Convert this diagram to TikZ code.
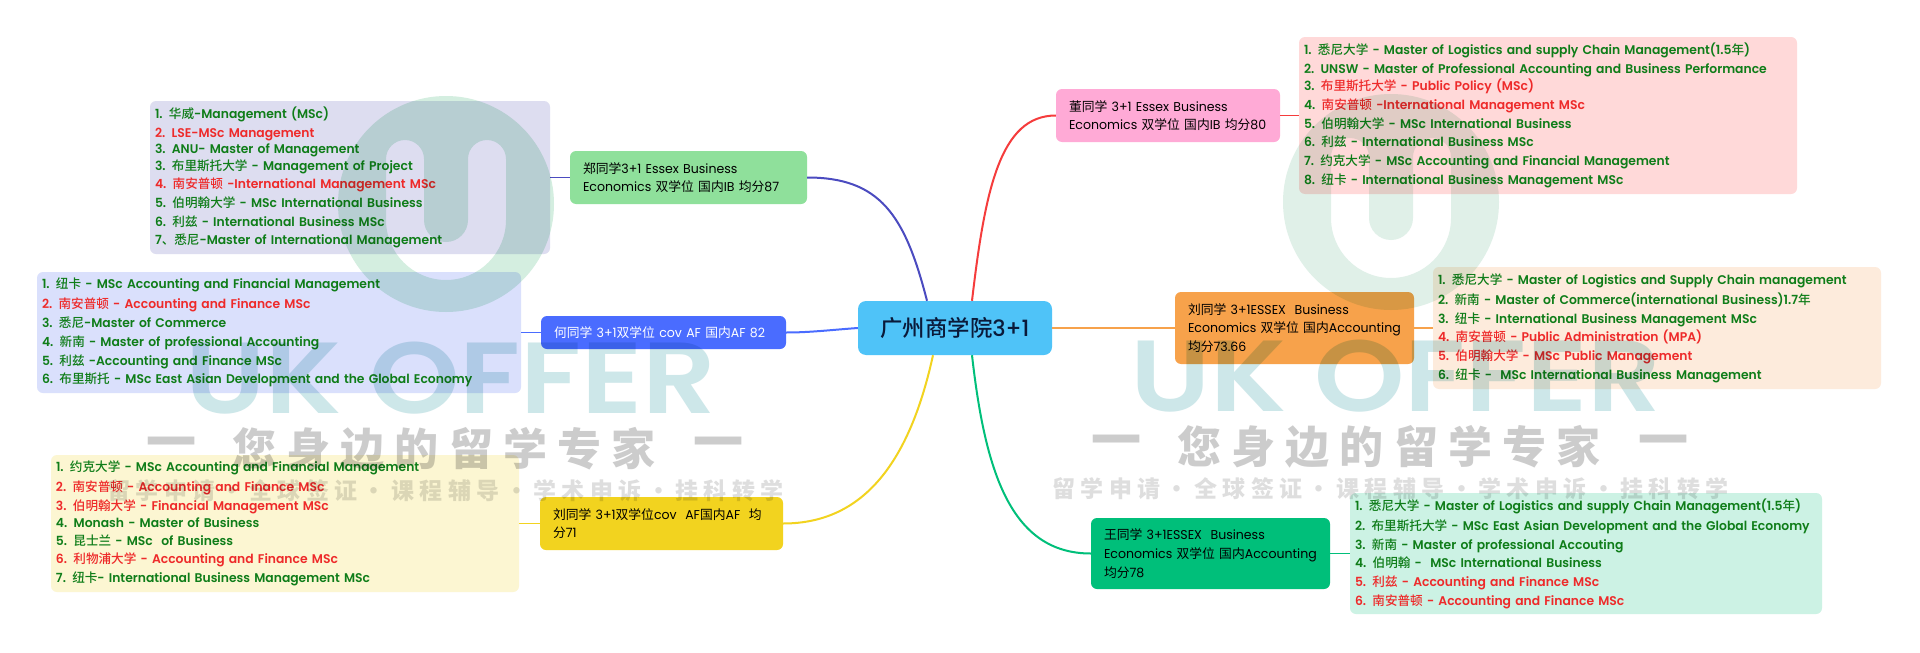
\documentclass[tikz,border=0pt]{standalone}
\usepackage{graphicx}
\usepackage{fontspec}
\setmainfont{Poppins}
\newfontfamily\latb{Poppins SemiBold}[FakeStretch=0.98]
\newfontfamily\latm{Poppins Medium}
\newfontfamily\latr{Poppins}[FakeStretch=0.98]
\newfontfamily\latw{Poppins SemiBold}
\newfontfamily\cjkf{Noto Sans CJK SC}
\newfontfamily\cjkm{Noto Sans CJK SC Medium}
\newfontfamily\cjkl{Noto Sans CJK SC}[LetterSpace=23]
\newfontfamily\cjks{Noto Sans CJK SC}[LetterSpace=23.5]
\newcommand\zh[1]{{\cjkf #1}}
\newcommand\zm[1]{{\cjkm #1}}
\definecolor{tg}{RGB}{15,125,25}
\definecolor{tr}{RGB}{238,42,42}
\newcommand\gl[1]{\mbox{\color{tg}#1}}
\newcommand\rl[1]{\mbox{\color{tr}#1}}
\definecolor{cRoot}{RGB}{79,195,248}
\definecolor{cZheng}{RGB}{143,224,155}
\definecolor{cHe}{RGB}{74,108,255}
\definecolor{cLiuA}{RGB}{242,211,31}
\definecolor{cDong}{RGB}{255,170,214}
\definecolor{cLiuB}{RGB}{247,162,75}
\definecolor{cWang}{RGB}{0,191,122}
\definecolor{lZheng}{RGB}{221,221,240}
\definecolor{lHe}{RGB}{218,224,252}
\definecolor{lLiuA}{RGB}{252,246,210}
\definecolor{lDong}{RGB}{255,217,217}
\definecolor{lLiuB}{RGB}{253,235,220}
\definecolor{lWang}{RGB}{204,242,228}
\definecolor{cLineZ}{RGB}{75,75,192}
\definecolor{cLineD}{RGB}{245,60,60}
\definecolor{wmGrayA}{RGB}{204,204,204}
\definecolor{wmGrayB}{RGB}{222,222,222}
\definecolor{wmTeal}{RGB}{205,231,233}
\definecolor{wmLogoA}{RGB}{212,238,224}
\definecolor{wmLogoB}{RGB}{224,240,232}
\tikzset{
 listbox/.style={rounded corners=6pt,inner xsep=5pt,inner ysep=0pt,align=left,anchor=center,
   font=\latb\fontsize{12.6}{18.67}\selectfont,execute at begin node={\vspace*{1.6pt}}},
 topic/.style={rounded corners=6pt,inner xsep=13pt,inner ysep=0pt,align=left,anchor=center,
   font=\latr\fontsize{12.8}{18.67}\selectfont,text=black},
 link/.style={line width=2pt},
 stub/.style={line width=1.5pt},
}
\newcommand\wmark[4]{% dx dy logocolour prefix
\begin{scope}[shift={(#1,#2)}]
 \fill[#3,even odd rule] (1391,202) circle[radius=108pt]
  (1331,218) -- (1331,157) .. controls (1331,146.5) and (1339.5,138) .. (1350,138)
  .. controls (1360.5,138) and (1369,146.5) .. (1369,157) -- (1369,218)
  .. controls (1369,230.15) and (1378.85,240) .. (1391,240)
  .. controls (1403.15,240) and (1413,230.15) .. (1413,218) -- (1413,157)
  .. controls (1413,146.5) and (1421.5,138) .. (1432,138)
  .. controls (1442.5,138) and (1451,146.5) .. (1451,157) -- (1451,218)
  .. controls (1451,251.1) and (1424.1,278) .. (1391,278)
  .. controls (1357.9,278) and (1331,251.1) .. (1331,218) -- cycle;
 \node[anchor=west,inner sep=0pt,text=wmTeal,font=\latw\fontsize{101}{101}\selectfont] (#4uk) at (1130,376) {\scalebox{1.14}[1]{UK OFFER}};
 \node[inner sep=0pt,text=wmGrayA,font=\cjkl\bfseries\fontsize{44}{44}\selectfont] (#4sl) at (1389,447) {您身边的留学专家};
 \node[inner sep=0pt,text=wmGrayA,font=\cjkf\bfseries\fontsize{50}{50}\selectfont] (#4da) at (1116.5,447) {一};
 \node[inner sep=0pt,text=wmGrayA,font=\cjkf\bfseries\fontsize{50}{50}\selectfont] (#4db) at (1663,447) {一};
 \node[inner sep=0pt,text=wmGrayB,font=\cjks\bfseries\fontsize{23}{23}\selectfont] (#4sm) at (1390.5,488.5) {留学申请・全球签证・课程辅导・学术申诉・挂科转学};
\end{scope}}
\begin{document}
\begin{tikzpicture}[x=1pt,y=-1pt]
\useasboundingbox (0,0) rectangle (1920,653);
\fill[white] (0,0) rectangle (1920,653);
% root
\node[rounded corners=8pt,fill=cRoot,minimum width=194pt,minimum height=54pt,inner sep=0pt,
  text={rgb,255:red,10;green,26;blue,58},font=\latm\fontsize{22.4}{22.4}\selectfont] (root) at (955,328) {\zm{广州商学院}3+1};
% topics
\node[topic,fill=cZheng,text width=211pt,minimum height=53pt] (zheng) at (688.5,177.5)
 {\zh{郑同学}3+1 Essex Business\\\mbox{Economics \zh{双学位 国内}IB \zh{均分}87}};
\node[topic,fill=cHe,text=white,text width=219pt,minimum height=33pt] (he) at (663.5,332.5)
 {\mbox{\zh{何同学} 3+1\zh{双学位} cov AF \zh{国内}AF 82}};
\node[topic,fill=cLiuA,text width=217pt,minimum height=53pt] (liua) at (661.5,523.5)
 {\mbox{\zh{刘同学} 3+1\zh{双学位}cov\ \ AF\zh{国内}AF\ \ \zh{均}}\\\zh{分}71};
\node[topic,fill=cDong,text width=198pt,minimum height=53pt] (dong) at (1168,115.5)
 {\zh{董同学} 3+1 Essex Business\\\mbox{Economics \zh{双学位 国内}IB \zh{均分}80}};
\node[topic,fill=cLiuB,text width=213pt,minimum height=72pt] (liub) at (1294.5,328)
 {\zh{刘同学} 3+1ESSEX\ \ Business\\\mbox{Economics \zh{双学位 国内}Accounting}\\\zh{均分}73.66};
\node[topic,fill=cWang,text width=213pt,minimum height=71pt] (wang) at (1210.5,553.5)
 {\zh{王同学} 3+1ESSEX\ \ Business\\\mbox{Economics \zh{双学位 国内}Accounting}\\\zh{均分}78};
% lists
\node[listbox,fill=lZheng,text width=390pt,minimum height=153pt] (lzheng) at (350,177.5) {%
 \gl{1. \zm{华威}-Management (MSc)}\\[-1.4pt]
 \rl{2. LSE-MSc Management}\\[-2.7pt]
 \gl{3. ANU- Master of Management}\\[-1.4pt]
 \gl{3. \zm{布里斯托大学} - Management of Project}\\
 \rl{4. \zm{南安普顿} -International Management MSc}\\
 \gl{5. \zm{伯明翰大学} - MSc International Business}\\
 \gl{6. \zm{利兹} - International Business MSc}\\
 \gl{7\zm{、悉尼}-Master of International Management}};
\node[listbox,fill=lHe,text width=474pt,minimum height=121pt] (lhe) at (279,332.5) {%
 \gl{1. \zm{纽卡} - MSc Accounting and Financial Management}\\
 \rl{2. \zm{南安普顿} - Accounting and Finance MSc}\\
 \gl{3. \zm{悉尼}-Master of Commerce}\\
 \gl{4. \zm{新南} - Master of professional Accounting}\\
 \gl{5. \zm{利兹} -Accounting and Finance MSc}\\
 \gl{6. \zm{布里斯托} - MSc East Asian Development and the Global Economy}};
\node[listbox,fill=lLiuA,text width=458pt,minimum height=137pt] (lliua) at (285,523.5) {%
 \gl{1. \zm{约克大学} - MSc Accounting and Financial Management}\\
 \rl{2. \zm{南安普顿} - Accounting and Finance MSc}\\
 \rl{3. \zm{伯明翰大学} - Financial Management MSc}\\[-1.3pt]
 \gl{4. Monash - Master of Business}\\[-1.3pt]
 \gl{5. \zm{昆士兰} - MSc\ \ of Business}\\
 \rl{6. \zm{利物浦大学} - Accounting and Finance MSc}\\
 \gl{7. \zm{纽卡}- International Business Management MSc}};
\node[listbox,fill=lDong,text width=488pt,minimum height=157pt] (ldong) at (1548,115.5) {%
 \gl{1. \zm{悉尼大学} - Master of Logistics and supply Chain Management(1.5\zm{年})}\\[-1.6pt]
 \gl{2. UNSW - Master of Professional Accounting and Business Performance}\\[-1.3pt]
 \mbox{\color{tg}3. \color{tr}\zm{布里斯托大学} - Public Policy (MSc)}\\
 \mbox{\color{tg}4. \color{tr}\zm{南安普顿} -International Management MSc}\\
 \gl{5. \zm{伯明翰大学} - MSc International Business}\\
 \gl{6. \zm{利兹} - International Business MSc}\\
 \gl{7. \zm{约克大学} - MSc Accounting and Financial Management}\\
 \gl{8. \zm{纽卡} - International Business Management MSc}};
\node[listbox,fill=lLiuB,text width=438pt,minimum height=122pt] (lliub) at (1657,328) {%
 \gl{1. \zm{悉尼大学} - Master of Logistics and Supply Chain management}\\
 \gl{2. \zm{新南} - Master of Commerce(international Business)1.7\zm{年}}\\
 \gl{3. \zm{纽卡} - International Business Management MSc}\\
 \rl{4. \zm{南安普顿} - Public Administration (MPA)}\\
 \rl{5. \zm{伯明翰大学} - MSc Public Management}\\
 \gl{6. \zm{纽卡} -\ \ MSc International Business Management}};
\node[listbox,fill=lWang,text width=462pt,minimum height=121pt] (lwang) at (1586,553.5) {%
 \gl{1. \zm{悉尼大学} - Master of Logistics and supply Chain Management(1.5\zm{年})}\\
 \gl{2. \zm{布里斯托大学} - MSc East Asian Development and the Global Economy}\\
 \gl{3. \zm{新南} - Master of professional Accouting}\\
 \gl{4. \zm{伯明翰} -\ \ MSc International Business}\\
 \rl{5. \zm{利兹} - Accounting and Finance MSc}\\
 \rl{6. \zm{南安普顿} - Accounting and Finance MSc}};
% connectors
\draw[link,cLineZ] ([xshift=-28pt]root.north) .. controls (905,215) and (880,177.5) .. (zheng.east);
\draw[link,cHe] (root.west) .. controls (830,330) and (810,332.5) .. (he.east);
\draw[link,cLiuA] ([xshift=-22pt]root.south) .. controls (910,460) and (865,523.5) .. (liua.east);
\draw[link,cLineD] ([xshift=17pt]root.north) .. controls (985,190) and (1000,115.5) .. (dong.west);
\draw[link,cLiuB] (root.east) -- (liub.west);
\draw[link,cWang] ([xshift=17pt]root.south) .. controls (985,470) and (1010,553.5) .. (wang.west);
\draw[stub,cLineZ] (zheng.west) -- (lzheng.east);
\draw[stub,cHe] (he.west) -- (lhe.east);
\draw[stub,cLiuA] (liua.west) -- (lliua.east);
\draw[stub,cLineD] (dong.east) -- (ldong.west);
\draw[stub,cLiuB] (liub.east) -- (lliub.west);
\draw[stub,cWang] (wang.east) -- (lwang.west);
% watermarks
\begin{scope}[blend mode=multiply]
 \wmark{0}{0}{wmLogoB}{r}
 \wmark{-945}{2}{wmLogoA}{l}
\end{scope}
\end{tikzpicture}
\end{document}
